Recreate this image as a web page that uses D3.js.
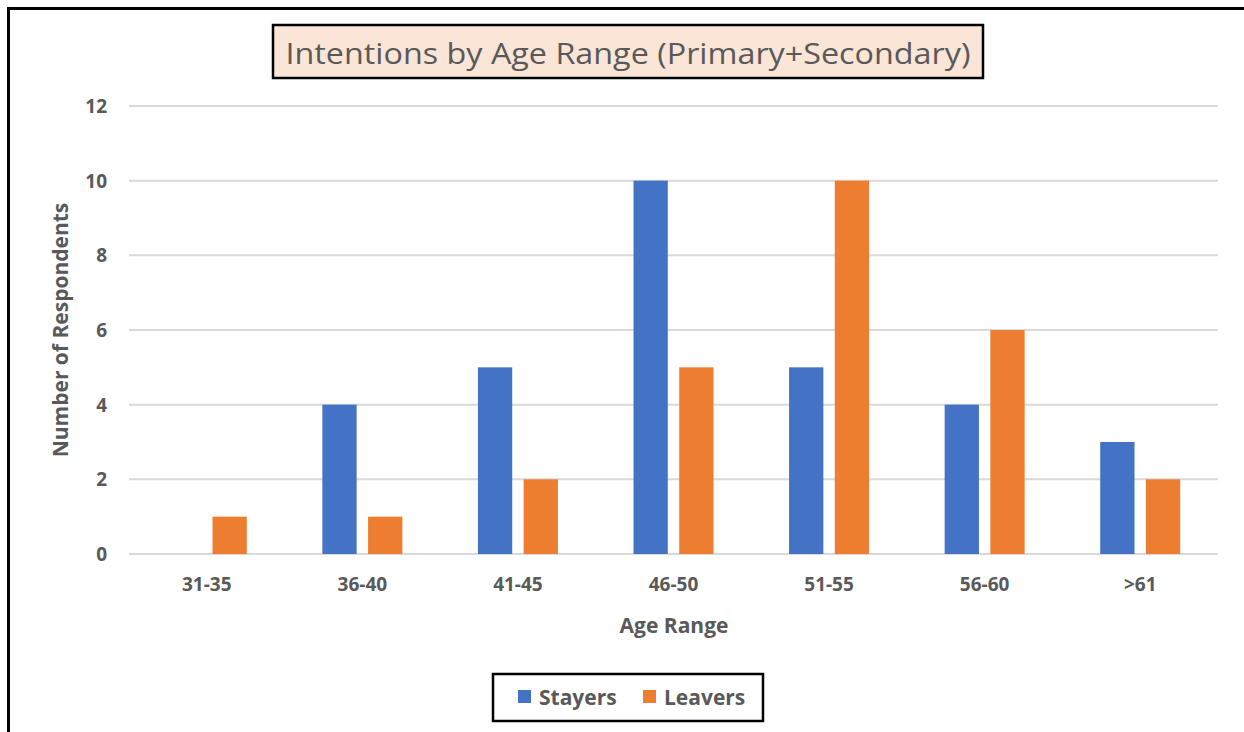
<!DOCTYPE html>
<html><head><meta charset="utf-8">
<script src="https://cdnjs.cloudflare.com/ajax/libs/d3/7.8.5/d3.min.js"></script>
<style>body{margin:0;background:#fff}svg{display:block}</style>
</head><body><svg id="c" width="1244" height="732"></svg>
<script>
const categories = ["31-35","36-40","41-45","46-50","51-55","56-60",">61"];
const seriesNames = ["Stayers","Leavers"];
const stayers = [0,4,5,10,5,4,3];
const leavers = [1,1,2,5,10,6,2];
const yTicks = [0,2,4,6,8,10,12];
const colors = ["#4472C4","#ED7D31"];
const titleText = "Intentions by Age Range (Primary+Secondary)";

const svg = d3.select("#c");
const font = "'Open Sans', 'Noto Sans', sans-serif";
const gray = "#595959";

svg.append("rect").attr("x",8.5).attr("y",8.5).attr("width",1260).attr("height",760)
  .attr("fill","#fff").attr("stroke","#000").attr("stroke-width",3);

const x = d3.scaleBand().domain(categories).range([129,1218]).padding(0);
const y = d3.scaleLinear().domain([0,12]).range([554,106]);

// gridlines
svg.append("g").selectAll("line").data(yTicks).join("line")
  .attr("x1",129).attr("x2",1218).attr("y1",d=>y(d)).attr("y2",d=>y(d))
  .attr("stroke","#d9d9d9").attr("stroke-width",2);

// y tick labels
svg.append("g").selectAll("text").data(yTicks).join("text")
  .attr("x",107).attr("y",d=>y(d)).attr("dy","0.36em").attr("text-anchor","end")
  .attr("font-family",font).attr("font-weight",700).attr("font-size",19).attr("fill",gray)
  .text(d=>d);

// bars
const data = categories.map((c,i)=>({cat:c, vals:[stayers[i],leavers[i]]}));
const g = svg.append("g");
data.forEach(d=>{
  const c = x(d.cat)+x.bandwidth()/2;
  const inner = d3.scaleBand().domain(seriesNames).range([c-40,c+40]).paddingInner(0.25);
  seriesNames.forEach((s,j)=>{
    const v = d.vals[j];
    if (v<=0) return;
    g.append("rect").attr("x",inner(s)).attr("width",inner.bandwidth())
      .attr("y",y(v)).attr("height",y(0)-y(v)).attr("fill",colors[j]);
  });
});

// x tick labels
svg.append("g").selectAll("text").data(categories).join("text")
  .attr("x",d=>x(d)+x.bandwidth()/2).attr("y",591).attr("text-anchor","middle")
  .attr("font-family",font).attr("font-weight",700).attr("font-size",19).attr("fill",gray)
  .text(d=>d);

// axis titles
svg.append("text").attr("x",674).attr("y",633).attr("text-anchor","middle")
  .attr("font-family",font).attr("font-weight",700).attr("font-size",21).attr("fill",gray)
  .text("Age Range");
svg.append("text").attr("transform","translate(68,330) rotate(-90)").attr("text-anchor","middle")
  .attr("font-family",font).attr("font-weight",700).attr("font-size",21).attr("fill",gray)
  .text("Number of Respondents");

// title
svg.append("rect").attr("x",273).attr("y",25).attr("width",710).attr("height",53)
  .attr("fill","#FBE5D6").attr("stroke","#000").attr("stroke-width",2.5);
svg.append("text").attr("x",628).attr("y",64).attr("text-anchor","middle")
  .attr("font-family",font).attr("font-size",30).attr("fill",gray)
  .attr("textLength",685).attr("lengthAdjust","spacingAndGlyphs")
  .text(titleText);

// legend
svg.append("rect").attr("x",493).attr("y",674).attr("width",270).attr("height",47)
  .attr("fill","#fff").attr("stroke","#000").attr("stroke-width",2.5);
const legX = [518,643];
seriesNames.forEach((s,j)=>{
  svg.append("rect").attr("x",legX[j]).attr("y",690).attr("width",13).attr("height",13).attr("fill",colors[j]);
  svg.append("text").attr("x",legX[j]+21).attr("y",705)
    .attr("font-family",font).attr("font-weight",700).attr("font-size",21).attr("fill",gray)
    .text(s);
});
</script></body></html>
